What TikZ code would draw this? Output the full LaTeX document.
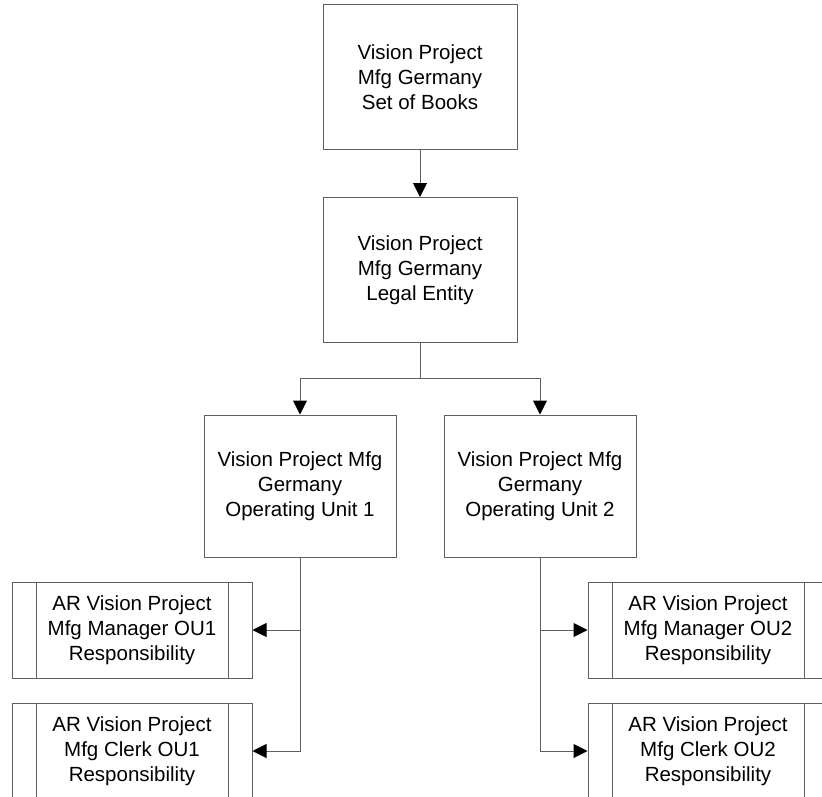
\documentclass[tikz,border=0pt]{standalone}
\usepackage{fontspec}
\setmainfont{Liberation Sans}
\usetikzlibrary{arrows.meta}
\definecolor{edgegray}{HTML}{606060}
\tikzset{
  box/.style={draw=edgegray, line width=1pt, fill=white, align=center,
    inner sep=0pt, font=\fontsize{20.5}{25}\selectfont},
  unitbox/.style={box, minimum width=194pt, minimum height=145pt},
  oubox/.style={box, minimum width=192pt, minimum height=142pt},
  respbox/.style={box, minimum width=240pt, minimum height=96pt,
    path picture={
      \draw[edgegray, line width=1pt]
        ([xshift=24pt]path picture bounding box.north west) --
        ([xshift=24pt]path picture bounding box.south west)
        ([xshift=-24pt]path picture bounding box.north east) --
        ([xshift=-24pt]path picture bounding box.south east);}},
  link/.style={draw=edgegray, line width=1pt},
  arr/.style={link, -{Triangle[length=14pt,width=14pt,color=black]}}
}
\begin{document}
\begin{tikzpicture}[x=1pt, y=-1pt]
\useasboundingbox (0,0) rectangle (822,797);
\clip (0,0) rectangle (822,797);

\node[unitbox] (sob) at (420,77.5) {Vision Project\\Mfg Germany\\Set of Books};
\node[unitbox] (le) at (420,270) {Vision Project\\Mfg Germany\\Legal Entity};

\node[oubox] (ou1) at (300,486) {Vision Project Mfg\\Germany\\Operating Unit 1};
\node[oubox] (ou2) at (540,486) {Vision Project Mfg\\Germany\\Operating Unit 2};

\node[respbox] (m1) at (132,630) {AR Vision Project\\Mfg Manager OU1\\Responsibility};
\node[respbox] (c1) at (132,751) {AR Vision Project\\Mfg Clerk OU1\\Responsibility};
\node[respbox] (m2) at (708,630) {AR Vision Project\\Mfg Manager OU2\\Responsibility};
\node[respbox] (c2) at (708,751) {AR Vision Project\\Mfg Clerk OU2\\Responsibility};

\coordinate (split) at (420,378);

\draw[arr] (sob) -- (le);
\draw[link] (le) -- (split);
\draw[arr] (split) -| (ou1);
\draw[arr] (split) -| (ou2);

\draw[arr] (ou1.south) |- (c1.east);
\draw[arr] (ou1.south |- m1.east) -- (m1.east);
\draw[arr] (ou2.south) |- (c2.west);
\draw[arr] (ou2.south |- m2.west) -- (m2.west);
\end{tikzpicture}
\end{document}
